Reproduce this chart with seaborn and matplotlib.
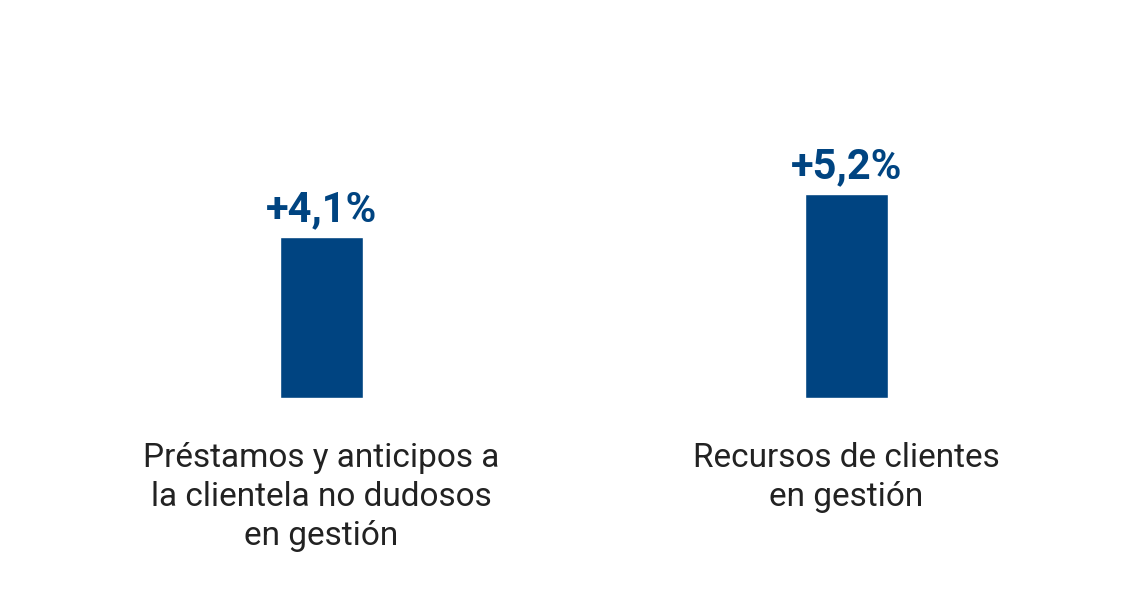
import numpy as np
import pandas as pd
import seaborn as sns
import matplotlib.pyplot as plt

# datos
categorias = ["Préstamos y anticipos a\nla clientela no dudosos\nen gestión",
              "Recursos de clientes\nen gestión"]
valores = [4.1, 5.2]
etiquetas = ["+4,1%", "+5,2%"]

df = pd.DataFrame({"categoria": categorias, "valor": valores})

sns.set_style("white")
plt.rcParams['font.family'] = ['Roboto', 'DejaVu Sans']

fig = plt.figure(figsize=(11.47, 5.94), dpi=100)
ax = fig.add_axes([0, 196 / 594, 1, 298 / 594])

sns.barplot(data=df, x="categoria", y="valor", color="#004481",
            width=83 / 525, saturation=1, ax=ax)

ax.bar_label(ax.containers[0], labels=etiquetas, padding=5,
             fontsize=30, fontweight="bold", color="#004481")

ax.set_xlim(-321.5 / 525, (1147 - 321.5) / 525)
ax.set_ylim(0, 298 / 39.2)
ax.set_xlabel("")
ax.set_ylabel("")
ax.set_yticks([])
ax.tick_params(axis="x", length=0, pad=32, labelsize=24, labelcolor="#222222")
for lab in ax.get_xticklabels():
    lab.set_linespacing(1.28)
sns.despine(ax=ax, left=True, bottom=True)

fig.savefig("out.png", dpi=100)
